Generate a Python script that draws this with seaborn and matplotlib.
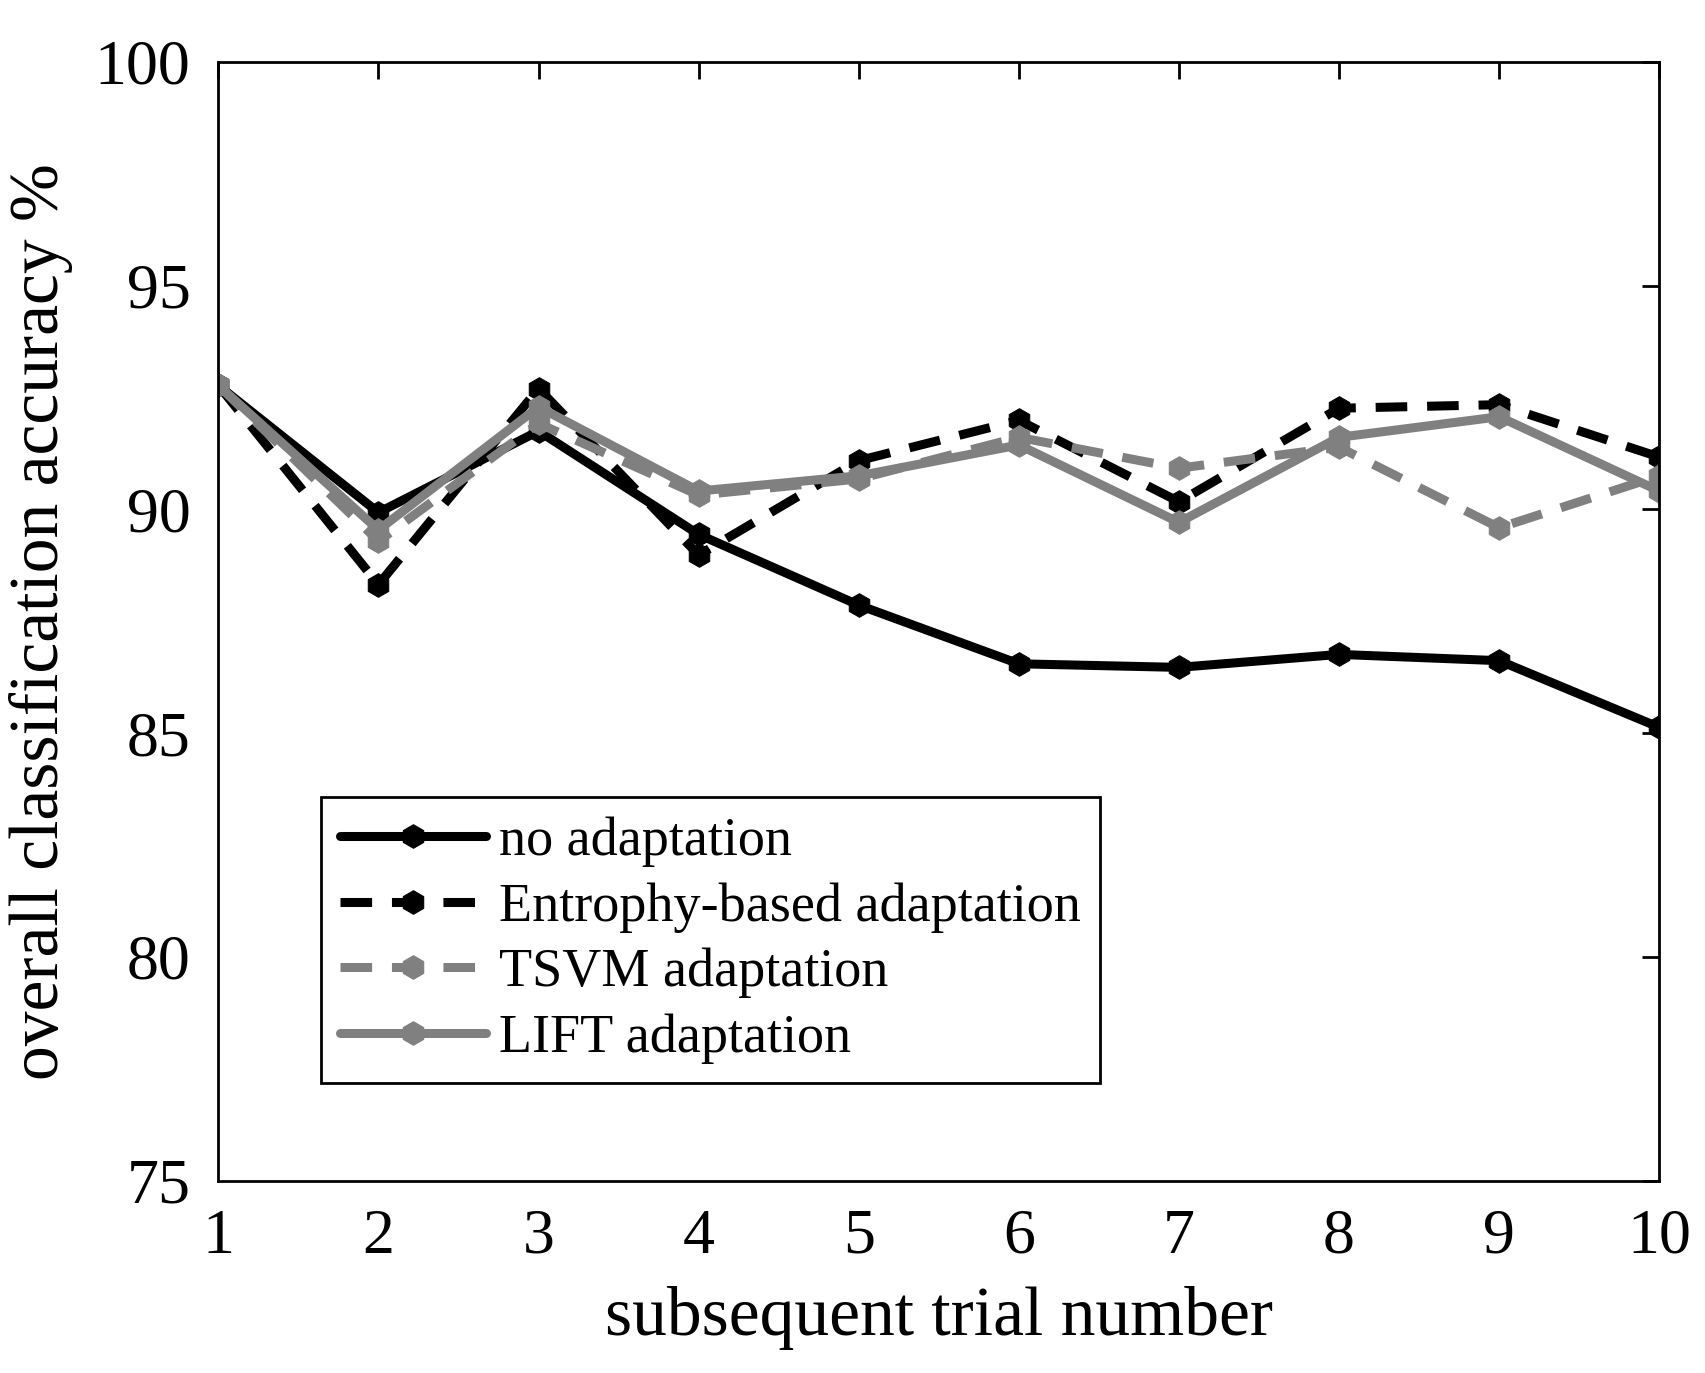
import matplotlib
matplotlib.use("Agg")
import matplotlib.pyplot as plt
import seaborn as sns
import pandas as pd

trial = [1, 2, 3, 4, 5, 6, 7, 8, 9, 10]
no_adapt = [92.77, 89.93, 91.75, 89.44, 87.86, 86.55, 86.47, 86.76, 86.62, 85.13]
entropy = [92.77, 88.32, 92.70, 88.98, 91.09, 91.99, 90.17, 92.26, 92.34, 91.17]
tsvm = [92.77, 89.29, 91.92, 90.32, 90.68, 91.61, 90.92, 91.39, 89.59, 90.75]
lift = [92.77, 89.54, 92.29, 90.41, 90.75, 91.44, 89.71, 91.61, 92.07, 90.41]

sns.set_style("white")
plt.rcParams['font.family'] = ['Liberation Serif', 'DejaVu Serif']
plt.rcParams['text.color'] = 'black'
plt.rcParams['axes.labelcolor'] = 'black'
plt.rcParams['xtick.color'] = 'black'
plt.rcParams['ytick.color'] = 'black'

fig = plt.figure(figsize=(17.06, 13.73), dpi=100)
ax = fig.add_axes([0.128, 0.140, 0.8446, 0.815])

gray = '#808080'
series = [
    ("no adaptation", no_adapt, 'black', '-'),
    ("Entrophy-based adaptation", entropy, 'black', (0, (3.5, 2.2))),
    ("TSVM adaptation", tsvm, gray, (0, (3.5, 2.2))),
    ("LIFT adaptation", lift, gray, '-'),
]
for name, vals, col, ls in series:
    df = pd.DataFrame({"trial": trial, "acc": vals})
    sns.lineplot(data=df, x="trial", y="acc", ax=ax, color=col, linestyle=ls,
                 linewidth=6.5, marker='h', markersize=17, markeredgecolor=col,
                 markerfacecolor=col, label=name)

ax.set_xlim(1, 10)
ax.set_ylim(75, 100)
ax.set_xticks(trial)
ax.set_yticks([75, 80, 85, 90, 95, 100])
ax.tick_params(direction='in', length=12, width=2, labelsize=46,
               top=True, right=True, pad=20)
for s in ax.spines.values():
    s.set_linewidth(2)
    s.set_color('black')
ax.set_xlabel("subsequent trial number", fontsize=50, labelpad=14)
ax.set_ylabel("overall classification accuracy %", fontsize=50, labelpad=16)

leg = ax.legend(loc='lower left', bbox_to_anchor=(0.071, 0.0875), fontsize=39,
                frameon=True, fancybox=False, edgecolor='black', framealpha=1,
                handlelength=2.7, handletextpad=0.25, borderpad=0.35,
                labelspacing=0.28, borderaxespad=0)
leg.get_frame().set_linewidth(2)

fig.savefig("out.png", dpi=100, facecolor='white')
